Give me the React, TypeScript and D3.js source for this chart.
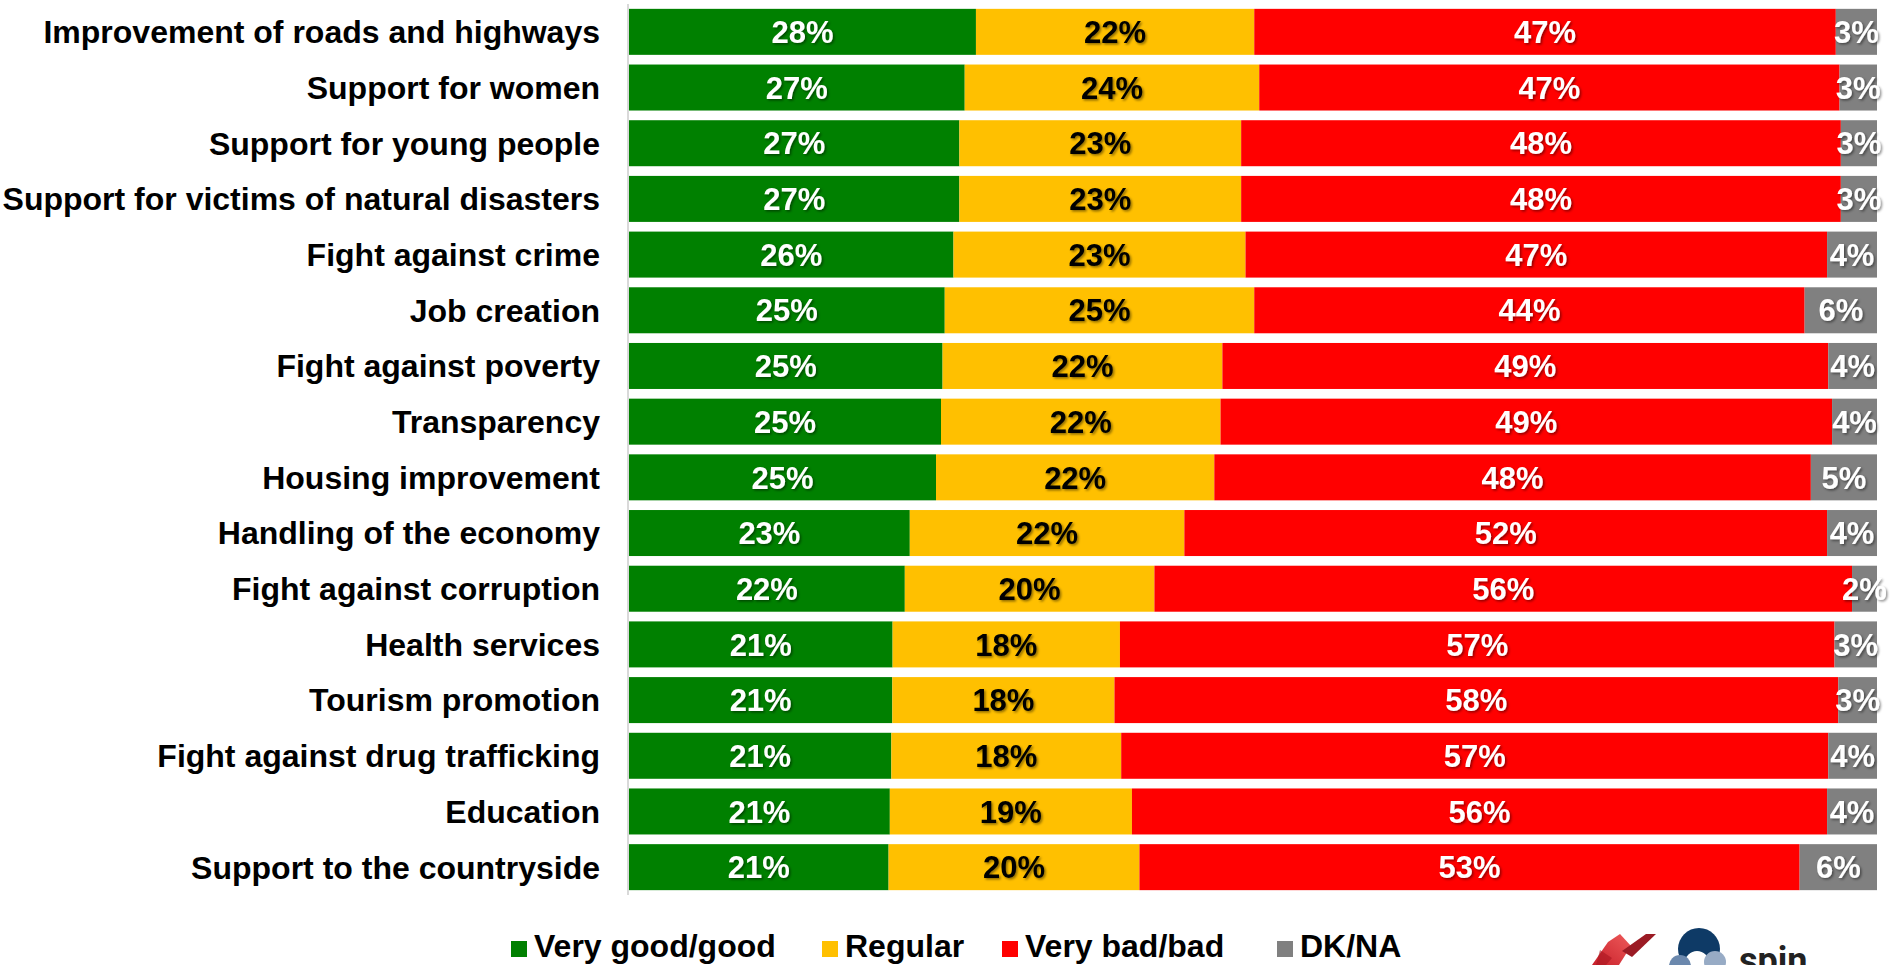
import React from "react";
import * as d3 from "d3";

const categories = [
  "Improvement of roads and highways",
  "Support for women",
  "Support for young people",
  "Support for victims of natural disasters",
  "Fight against crime",
  "Job creation",
  "Fight against poverty",
  "Transparency",
  "Housing improvement",
  "Handling of the economy",
  "Fight against corruption",
  "Health services",
  "Tourism promotion",
  "Fight against drug trafficking",
  "Education",
  "Support to the countryside",
];

const veryGood = [27.8, 26.9, 26.5, 26.5, 26.0, 25.3, 25.1, 25.0, 24.6, 22.5, 22.1, 21.1, 21.1, 21.0, 20.9, 20.8];
const regular = [22.3, 23.6, 22.6, 22.6, 23.4, 24.8, 22.4, 22.4, 22.3, 22.0, 20.0, 18.2, 17.8, 18.4, 19.4, 20.1];
const veryBad = [46.6, 46.5, 48.1, 48.1, 46.6, 44.1, 48.5, 49.0, 47.8, 51.5, 55.9, 57.2, 58.0, 56.6, 55.7, 52.9];
const dkna = [3.3, 3.0, 2.9, 2.9, 4.0, 5.8, 3.9, 3.6, 5.3, 4.0, 2.0, 3.4, 3.1, 3.9, 4.0, 6.2];

const seriesNames = ["Very good/good", "Regular", "Very bad/bad", "DK/NA"];
const seriesColors = ["#008000", "#FFC000", "#FF0000", "#808080"];
const labelColors = ["#FFFFFF", "#000000", "#FFFFFF", "#FFFFFF"];

const W = 1891;
const H = 965;
const FONT = "'Liberation Sans', Arial, sans-serif";

const legendX = [511, 822, 1002, 1277];

export default function App() {
  const seriesValues = [veryGood, regular, veryBad, dkna];
  const rows = categories.map((c, i) => {
    const o: any = { cat: c };
    seriesNames.forEach((s, k) => (o[s] = seriesValues[k][i]));
    return o;
  });
  const stack = d3.stack<any>().keys(seriesNames).offset(d3.stackOffsetExpand);
  const stacked = stack(rows);

  const x = d3.scaleLinear().domain([0, 1]).range([629, 1877]);
  const y = d3.scaleBand<string>().domain(categories).range([4, 895]).paddingInner(0.174).paddingOuter(0.087);

  return (
    <svg
      width={W}
      height={H}
      style={{ position: "absolute", left: 0, top: 0, background: "#fff" }}
      fontFamily={FONT}
    >
      <defs>
        <filter id="shadow" x="-20%" y="-20%" width="140%" height="140%">
          <feDropShadow dx="1.5" dy="1.5" stdDeviation="1" floodColor="#000" floodOpacity="0.45" />
        </filter>
        <linearGradient id="redg" x1="0" y1="1" x2="1" y2="0">
          <stop offset="0" stopColor="#c8202a" />
          <stop offset="1" stopColor="#ee5a5a" />
        </linearGradient>
      </defs>
      <rect x={0} y={0} width={W} height={H} fill="#fff" />

      {/* category labels */}
      {categories.map((c) => (
        <text
          key={c}
          x={600}
          y={(y(c) as number) + y.bandwidth() / 2}
          dy="0.355em"
          textAnchor="end"
          fontSize={32}
          fontWeight="bold"
          fill="#000"
        >
          {c}
        </text>
      ))}

      {/* bars */}
      {stacked.map((layer, k) => (
        <g key={layer.key} fill={seriesColors[k]}>
          {layer.map((d: any, i: number) => (
            <rect
              key={i}
              x={x(d[0])}
              y={y(categories[i]) as number}
              width={x(d[1]) - x(d[0])}
              height={y.bandwidth()}
            />
          ))}
        </g>
      ))}

      {/* axis line */}
      <line x1={628} x2={628} y1={4} y2={895} stroke="#d9d9d9" strokeWidth={2} />

      {/* data labels */}
      {stacked.map((layer, k) => (
        <g key={"l" + layer.key} filter="url(#shadow)">
          {layer.map((d: any, i: number) => (
            <text
              key={i}
              x={(x(d[0]) + x(d[1])) / 2}
              y={(y(categories[i]) as number) + y.bandwidth() / 2}
              dy="0.36em"
              textAnchor="middle"
              fontSize={31}
              fontWeight="bold"
              fill={labelColors[k]}
            >
              {Math.round(seriesValues[k][i]) + "%"}
            </text>
          ))}
        </g>
      ))}

      {/* legend */}
      {seriesNames.map((s, k) => (
        <g key={"lg" + s}>
          <rect x={legendX[k]} y={941} width={16} height={16} fill={seriesColors[k]} />
          <text x={legendX[k] + 23} y={957} fontSize={32} fontWeight="bold" fill="#000">
            {s}
          </text>
        </g>
      ))}

      {/* logo */}
      <g>
        <polygon points="1592,965 1608,942 1620,934 1631,946 1619,965" fill="url(#redg)" />
        <polygon points="1600,950 1612,958 1606,965 1596,965" fill="#a8151f" opacity={0.6} />
        <polygon points="1622,951 1646,934 1656,934 1632,957" fill="#9b1b24" />
        <circle cx={1699} cy={949} r={21} fill="#0e3a66" />
        <circle cx={1697} cy={963} r={12} fill="#fff" />
        <circle cx={1680} cy={966} r={11} fill="#6b88ad" />
        <circle cx={1715} cy={962} r={11} fill="#97abc5" />
        <text x={1739} y={973} fontSize={36} fontWeight="bold" fill="#222" fontFamily="Roboto, 'Liberation Sans', sans-serif">
          spin
        </text>
      </g>
    </svg>
  );
}
